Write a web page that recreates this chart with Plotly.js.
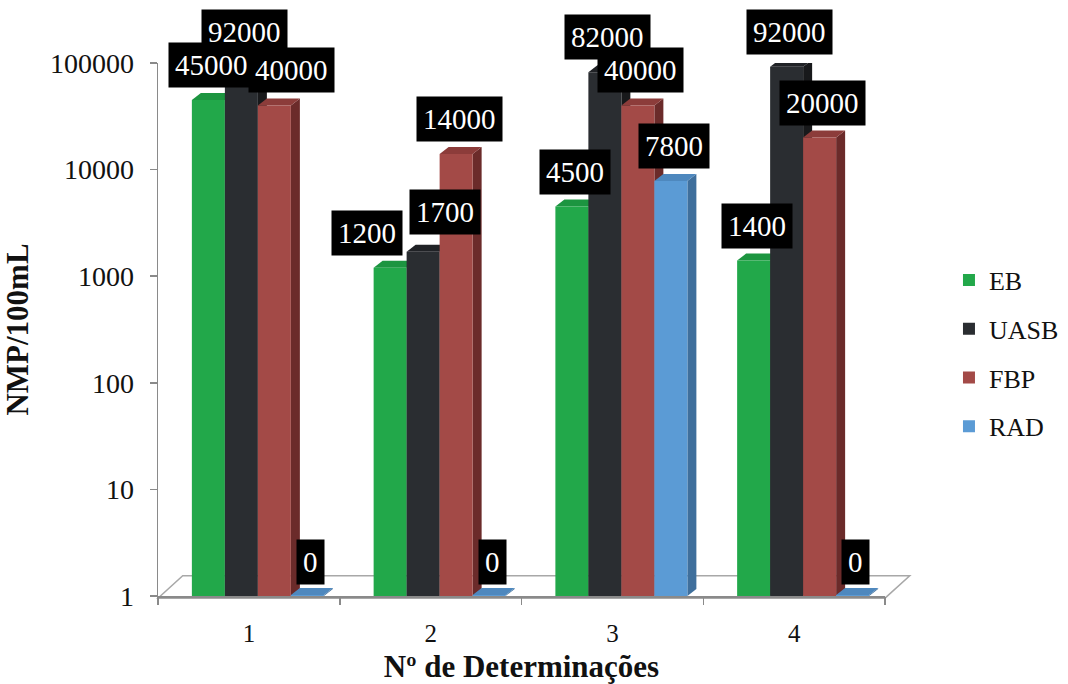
<!DOCTYPE html>
<html>
<head>
<meta charset="utf-8">
<script src="https://cdn.plot.ly/plotly-3.0.1.min.js"></script>
<style>html,body{margin:0;padding:0;background:#fff;}#chart{width:1068px;height:684px;}</style>
</head>
<body>
<div id="chart"></div>
<script>
const categories = ['1', '2', '3', '4'];
const seriesNames = ['EB', 'UASB', 'FBP', 'RAD'];
const EB = [45000, 1200, 4500, 1400];
const UASB = [92000, 1700, 82000, 92000];
const FBP = [40000, 14000, 40000, 20000];
const RAD = [0, 0, 7800, 0];
const yTickVals = [1, 10, 100, 1000, 10000, 100000];
const yTickText = ['1', '10', '100', '1000', '10000', '100000'];

const allSeries = [EB, UASB, FBP, RAD];
const frontColors = ['#22A84A', '#2A2D31', '#A34A47', '#5B9BD5'];
const sideColors  = ['#187A35', '#18191B', '#6B2B2A', '#3F6F9C'];
const topColors   = ['#1C9540', '#202226', '#8C3C3A', '#4E88BE'];
const serif = 'Liberation Serif';

// geometry (layout only)
const W = 1068, H = 684;
const M = { l: 158, r: 183, t: 63, b: 88, autoexpand: false };
const plotW = W - M.l - M.r, plotH = H - M.t - M.b;
const yRange = [0, 5];
const catPx = plotW / categories.length;
const decPx = plotH / (yRange[1] - yRange[0]);
const barW = 33 / catPx;
const groupStart = -57 / catPx;
const depthX = 9 / catPx;
const depthF = Math.pow(10, 7 / decPx);   // vertical depth as a log-axis factor
// label nudges (px) to avoid overlaps, keyed "series-category"
const labelNudge = { '0-1': [-26, 0], '1-1': [19, 5], '2-0': [14, 0] };

// zero values cannot sit on a log axis: draw them flat on the floor
const plotVal = v => (v > 0 ? v : 1.02);

const traces = allSeries.map((vals, i) => ({
  type: 'bar',
  name: seriesNames[i],
  x: categories.map((c, j) => j),
  y: vals.map(plotVal),
  width: barW,
  offset: groupStart + i * barW,
  marker: { color: frontColors[i], line: { width: 0 } },
  legendgroup: 'g' + i,
  hoverinfo: 'y+name'
}));

const shapes = [{
  type: 'path', xref: 'paper', yref: 'paper',
  path: 'M 0 -0.004 L 1 -0.004 L 1.034 0.038 L 0.034 0.038 Z',
  line: { color: '#a8a8a8', width: 1.5 },
  fillcolor: 'rgba(0,0,0,0)', layer: 'below'
}];
const annotations = [];
allSeries.forEach((vals, i) => {
  vals.forEach((v, j) => {
    const xl = j + groupStart + i * barW, xr = xl + barW;
    const top = plotVal(v);
    // side face
    shapes.push({
      type: 'path', xref: 'x', yref: 'y', layer: 'below',
      path: `M ${xr} 1 L ${xr + depthX} ${depthF} L ${xr + depthX} ${top * depthF} L ${xr} ${top} Z`,
      fillcolor: sideColors[i], line: { width: 0 }
    });
    // top face
    shapes.push({
      type: 'path', xref: 'x', yref: 'y', layer: 'below',
      path: `M ${xl} ${top} L ${xl + depthX} ${top * depthF} L ${xr + depthX} ${top * depthF} L ${xr} ${top} Z`,
      fillcolor: topColors[i], line: { width: 0 }
    });
    const nud = labelNudge[i + '-' + j] || [0, 0];
    annotations.push({
      x: xl + barW / 2, xref: 'x',
      y: v > 0 ? Math.log10(v) : 0, yref: 'y',
      xshift: nud[0] + 3,
      yshift: (v > 0 ? 12 : 11) + nud[1],
      yanchor: 'bottom',
      text: String(v),
      showarrow: false,
      bgcolor: '#000',
      borderpad: 6,
      font: { family: serif, size: 29, color: '#fff' }
    });
  });
});

const layout = {
  width: W, height: H,
  margin: M,
  font: { family: serif, color: '#111' },
  paper_bgcolor: '#fff', plot_bgcolor: 'rgba(0,0,0,0)',
  barmode: 'overlay',
  showlegend: true,
  legend: {
    x: 1.088, y: 0.455, xanchor: 'left', yanchor: 'middle',
    font: { family: serif, size: 26, color: '#111' },
    traceorder: 'grouped',
    tracegroupgap: 12,
    itemwidth: 30
  },
  xaxis: {
    type: 'linear',
    range: [-0.5, 3.5],
    tickvals: [0, 1, 2, 3], ticktext: categories,
    showline: true, linecolor: '#8a8a8a', linewidth: 1.5,
    ticks: '', showgrid: false, zeroline: false,
    ticklabelstandoff: 14,
    tickfont: { family: serif, size: 25, color: '#111' },
    title: { text: '<b>Nº de Determinações</b>', font: { family: serif, size: 31, color: '#111' }, standoff: 14 }
  },
  xaxis2: {
    overlaying: 'x', range: [-0.5, 3.5], tickvals: [0.5, 1.5, 2.5, 3.5, -0.5],
    showticklabels: false, ticks: 'outside', ticklen: 8, tickcolor: '#8a8a8a', tickwidth: 1.5,
    showgrid: false, zeroline: false, showline: false, anchor: 'y', side: 'bottom'
  },
  yaxis: {
    type: 'log',
    range: yRange,
    tickvals: yTickVals, ticktext: yTickText,
    showline: true, linecolor: '#8a8a8a', linewidth: 1.5,
    ticks: 'outside', ticklen: 7, tickcolor: '#8a8a8a', tickwidth: 1.5,
    ticklabelstandoff: 10,
    tickfont: { family: serif, size: 28, color: '#111' },
    showgrid: false, zeroline: false,
    title: { text: '<b>NMP/100mL</b>', font: { family: serif, size: 31, color: '#111' }, standoff: 12 }
  },
  shapes: shapes,
  annotations: annotations
};

// invisible trace to activate the boundary tick axis
traces.push({ type: 'scatter', x: [0], y: [1], xaxis: 'x2', mode: 'none', showlegend: false, hoverinfo: 'skip' });

Plotly.newPlot('chart', traces, layout, { displayModeBar: false, staticPlot: true });
</script>
</body>
</html>
